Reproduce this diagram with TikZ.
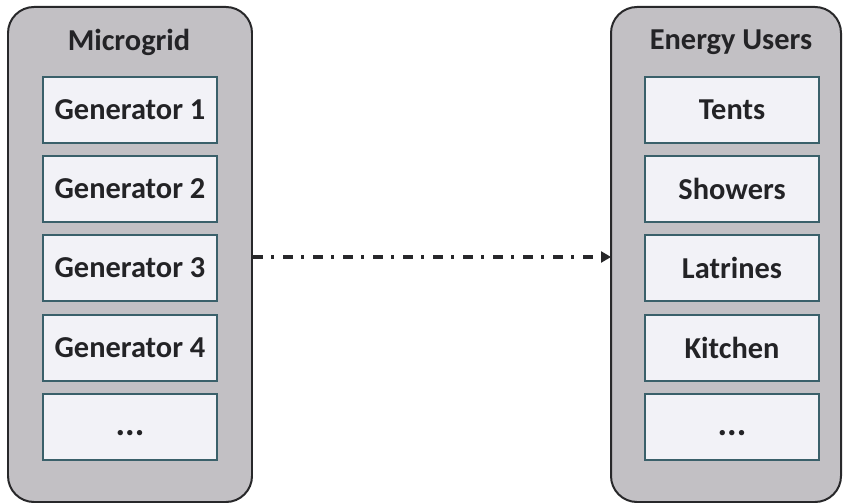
\documentclass[tikz,border=0pt]{standalone}
\usepackage{fontspec}
\setmainfont{Carlito}
\usetikzlibrary{arrows.meta}
\definecolor{panelgray}{RGB}{194,192,196}
\definecolor{panelline}{RGB}{40,40,42}
\definecolor{itemfill}{RGB}{242,242,247}
\definecolor{itemline}{RGB}{58,96,106}
\definecolor{txt}{RGB}{35,35,38}
\newcommand{\moreitems}{\raisebox{-8bp}[0pt][0pt]{\fontsize{36}{36}\selectfont\bfseries...}}
\tikzset{
  panel/.style={draw=panelline, line width=2pt, fill=panelgray, rounded corners=26bp},
  item/.style={draw=itemline, line width=2.4pt, fill=itemfill, minimum width=174bp,
    minimum height=66bp, inner sep=0pt, font=\fontsize{30.5}{34}\selectfont\bfseries, text=txt},
  heading/.style={font=\fontsize{30.5}{34}\selectfont\bfseries, text=txt, inner sep=0pt},
  flow/.style={line width=3.2pt, draw=panelline, dash pattern=on 10bp off 8bp on 3bp off 9bp,
    -{Triangle[length=10bp,width=11bp]}}
}
\begin{document}
\begin{tikzpicture}[x=1bp,y=-1bp]
  \useasboundingbox[fill=white] (0,0) rectangle (843,504);
  % the two panels
  \draw[panel] (8,7) rectangle (252,502);
  \draw[panel] (611,7) rectangle (841,502);
  \coordinate (mgR) at (253,257);
  \coordinate (euL) at (611,257);
  % microgrid side
  \node[heading] (mg) at (129,42) {Microgrid};
  \node[item] (g1) at (130,110) {Generator 1};
  \node[item] (g2) at (130,189) {Generator 2};
  \node[item] (g3) at (130,268) {Generator 3};
  \node[item] (g4) at (130,348) {Generator 4};
  \node[item] (g5) at (130,427) {\moreitems};
  % energy users side
  \node[heading] (eu) at (731,42) {Energy Users};
  \node[item] (u1) at (732,110) {Tents};
  \node[item] (u2) at (732,189) {Showers};
  \node[item] (u3) at (732,268) {Latrines};
  \node[item] (u4) at (732,348) {Kitchen};
  \node[item] (u5) at (732,427) {\moreitems};
  % energy flow
  \draw[flow] (mgR) -- (euL);
\end{tikzpicture}
\end{document}
